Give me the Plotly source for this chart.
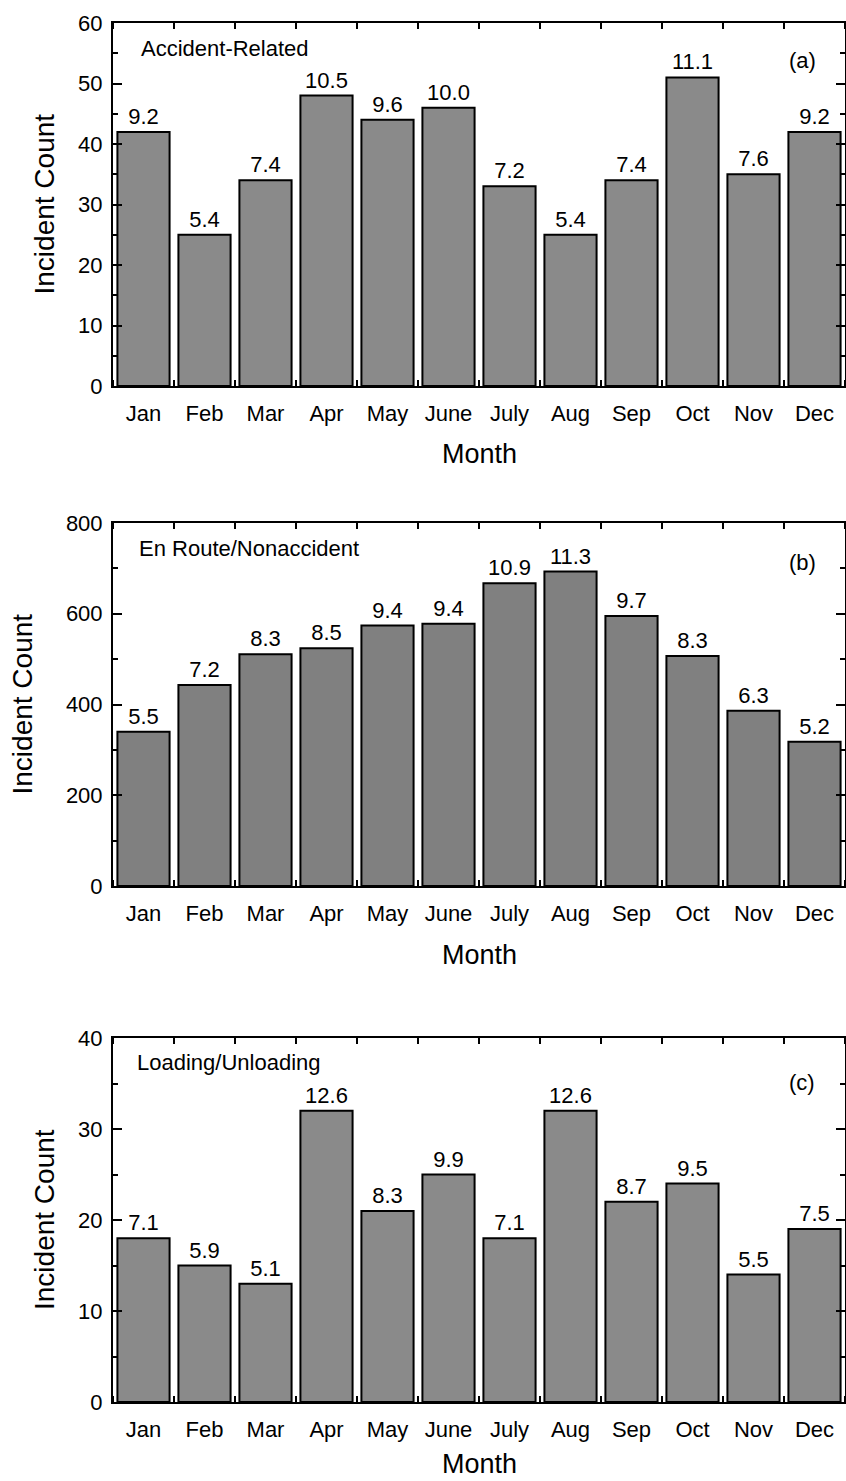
import plotly.graph_objects as go
from plotly.subplots import make_subplots

# Monthly incident counts for three incident categories
months = ["Jan", "Feb", "Mar", "Apr", "May", "June",
          "July", "Aug", "Sep", "Oct", "Nov", "Dec"]
accident_related = [42, 25, 34, 48, 44, 46, 33, 25, 34, 51, 35, 42]
en_route = [340, 443, 511, 524, 574, 578, 667, 693, 595, 507, 386, 318]
loading_unloading = [18, 15, 13, 32, 21, 25, 18, 32, 22, 24, 14, 19]

panel_names = ["Accident-Related", "En Route/Nonaccident", "Loading/Unloading"]
panel_tags = ["(a)", "(b)", "(c)"]
y_ranges = [(0, 60), (0, 800), (0, 40)]
y_dticks = [10, 200, 10]
bar_colors = ["#8a8a8a", "#808080", "#8a8a8a"]

W, H = 846, 1481
FONT = "Liberation Sans, Arial, Helvetica, sans-serif"

# plot-area boxes in pixels: (top, bottom)
boxes = [(23, 386), (523, 886), (1038, 1402)]
x_left, x_right = 113, 845


def py(p):
    return 1 - p / H


def px(p):
    return p / W


fig = make_subplots(rows=3, cols=1)

series = [accident_related, en_route, loading_unloading]
positions = list(range(1, 13))

for i, counts in enumerate(series):
    total = sum(counts)
    pct = [f"{100 * c / total:.1f}" for c in counts]
    fig.add_trace(
        go.Bar(
            x=positions, y=counts, width=0.855,
            marker=dict(color=bar_colors[i], line=dict(color="black", width=2)),
            text=pct, textposition="outside", constraintext="none",
            textfont=dict(size=22, color="black", family=FONT),
            cliponaxis=False, showlegend=False,
        ),
        row=i + 1, col=1,
    )

layout_axes = {}
for i in range(3):
    top, bottom = boxes[i]
    n = "" if i == 0 else str(i + 1)
    layout_axes[f"xaxis{n}"] = dict(
        domain=[px(x_left), px(x_right)],
        range=[0.5, 12.5], tickmode="array", tickvals=positions, ticktext=months,
        ticks="", showline=True, linecolor="black", linewidth=2, mirror="allticks",
        minor=dict(tickmode="linear", tick0=0.5, dtick=1, ticks="inside",
                   ticklen=6, tickwidth=2, tickcolor="black"),
        showgrid=False, zeroline=False, automargin=False,
        tickfont=dict(size=22, color="black", family=FONT),
        ticklabelstandoff=7,
    )
    layout_axes[f"yaxis{n}"] = dict(
        domain=[py(bottom), py(top)],
        range=list(y_ranges[i]), dtick=y_dticks[i], tick0=0,
        ticks="inside", ticklen=9, tickwidth=2, tickcolor="black",
        minor=dict(dtick=y_dticks[i] / 2, tick0=0, ticks="inside",
                   ticklen=5, tickwidth=2, tickcolor="black"),
        showline=True, linecolor="black", linewidth=2, mirror="allticks",
        showgrid=False, zeroline=False, automargin=False,
        tickfont=dict(size=22, color="black", family=FONT),
        ticklabelstandoff=4,
    )

fig.update_layout(**layout_axes)

annotations = []
month_title_y = [454, 955, None]
ytitle_x = [44, 22, 44]
name_y = [48, 548, 1062]
name_x = [139, 137, 135]
tag_y = [60, 563, 1082]
for i in range(3):
    top, bottom = boxes[i]
    if month_title_y[i] is None:
        # bottom panel: title sits against the lower edge of the figure
        month_pos = dict(y=0, yanchor="bottom")
    else:
        month_pos = dict(y=py(month_title_y[i]), yanchor="middle")
    annotations.append(dict(
        text="Month", x=px((x_left + x_right) / 2),
        xref="paper", yref="paper", showarrow=False, xanchor="center",
        font=dict(size=27, color="black", family=FONT), **month_pos))
    annotations.append(dict(
        text="Incident Count", x=px(ytitle_x[i]), y=py((top + bottom) / 2),
        xref="paper", yref="paper", showarrow=False, textangle=-90,
        xanchor="center", yanchor="middle",
        font=dict(size=28, color="black", family=FONT)))
    annotations.append(dict(
        text=panel_names[i], x=px(name_x[i]), y=py(name_y[i]),
        xref="paper", yref="paper", showarrow=False,
        xanchor="left", yanchor="middle",
        font=dict(size=22, color="black", family=FONT)))
    annotations.append(dict(
        text=panel_tags[i], x=px(802), y=py(tag_y[i]),
        xref="paper", yref="paper", showarrow=False,
        xanchor="center", yanchor="middle",
        font=dict(size=22, color="black", family=FONT)))

fig.update_layout(
    width=W, height=H,
    margin=dict(l=0, r=0, t=0, b=0),
    paper_bgcolor="white", plot_bgcolor="white",
    bargap=0.15,
    annotations=annotations,
    font=dict(family=FONT, color="black"),
)

fig.write_html("out.html")
